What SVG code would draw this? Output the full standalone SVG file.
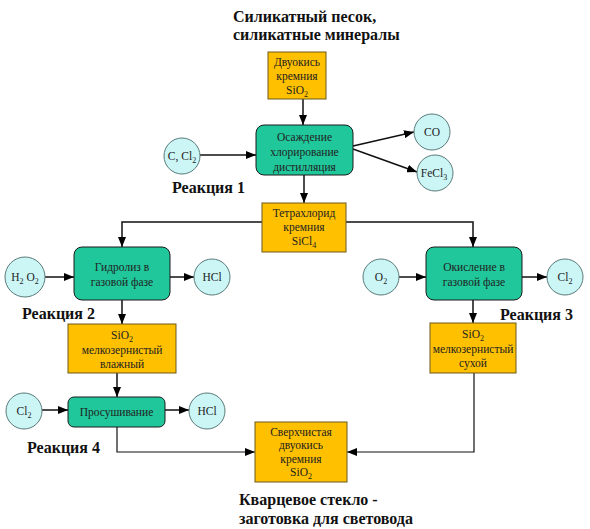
<svg xmlns="http://www.w3.org/2000/svg" width="590" height="529" viewBox="0 0 590 529">
<defs>
<marker id="arr" markerWidth="10" markerHeight="8" refX="10" refY="4" orient="auto" markerUnits="userSpaceOnUse">
<path d="M0,0 L10,4 L0,8 Z" fill="#000"/>
</marker>
<style>
.y{fill:#FFC000;stroke:#6b5a1a;stroke-width:1}
.g{fill:#1FC79A;stroke:#1a1a1a;stroke-width:1}
.c{fill:#CCF6F6;stroke:#5a7a7a;stroke-width:1}
.t{font-size:11.5px;fill:#222;text-anchor:middle}
.h{font-size:16px;font-weight:bold;fill:#111}
.l{fill:none;stroke:#111;stroke-width:1.5;marker-end:url(#arr)}
</style>
</defs>
<rect width="590" height="529" fill="#fff"/>
<g id="labels" font-family="'Liberation Serif','DejaVu Serif','Times New Roman',serif">
<text class="h" x="233" y="22">Силикатный песок,</text>
<text class="h" x="233" y="40">силикатные минералы</text>
<text class="h" x="172" y="193">Реакция 1</text>
<text class="h" x="22" y="319">Реакция 2</text>
<text class="h" x="500" y="320">Реакция 3</text>
<text class="h" x="27" y="453">Реакция 4</text>
<text class="h" x="239" y="505">Кварцевое стекло -</text>
<text class="h" x="239" y="524">заготовка для световода</text>
</g>
<g id="connectors">
<line class="l" x1="303" y1="99" x2="303" y2="125"/>
<line class="l" x1="200" y1="155" x2="256" y2="155"/>
<line class="l" x1="353" y1="146" x2="414" y2="132"/>
<line class="l" x1="353" y1="149" x2="417" y2="172"/>
<line class="l" x1="304" y1="175" x2="304" y2="203"/>
<polyline class="l" points="262,222 122,222 122,247"/>
<polyline class="l" points="346,222 473,222 473,247"/>
<line class="l" x1="45" y1="277" x2="74" y2="277"/>
<line class="l" x1="170" y1="277" x2="194" y2="277"/>
<line class="l" x1="399" y1="277" x2="426" y2="277"/>
<line class="l" x1="522" y1="277" x2="547" y2="277"/>
<line class="l" x1="122" y1="300" x2="122" y2="324"/>
<line class="l" x1="473" y1="300" x2="473" y2="323"/>
<line class="l" x1="117" y1="373" x2="117" y2="397"/>
<line class="l" x1="42" y1="410" x2="68" y2="410"/>
<line class="l" x1="165" y1="410" x2="189" y2="410"/>
<polyline class="l" style="stroke-width:1.2" points="117,427 117,452 255,452"/>
<polyline class="l" style="stroke-width:1.2" points="474,373 474,452 347,452"/>
</g>
<g id="nodes" font-family="'Liberation Serif','DejaVu Serif','Times New Roman',serif">
<g id="n-sio2-top"><rect class="y" x="268" y="52" width="58" height="47"/>
<text class="t" x="297" y="66">Двуокись</text><text class="t" x="297" y="80">кремния</text><text class="t" x="297" y="94">SiO<tspan font-size="8" dy="3">2</tspan></text></g>
<g id="n-chlor"><rect class="g" x="256" y="125" width="97" height="50" rx="8"/>
<text class="t" x="304.5" y="141">Осаждение</text><text class="t" x="304.5" y="156">хлорирование</text><text class="t" x="304.5" y="171">дистилляция</text></g>
<g id="n-ccl2"><circle class="c" cx="182" cy="156" r="18"/><text class="t" x="182" y="160">C, Cl<tspan font-size="8" dy="3">2</tspan></text></g>
<g id="n-co"><circle class="c" cx="432" cy="132" r="18"/><text class="t" x="432" y="136">CO</text></g>
<g id="n-fecl3"><circle class="c" cx="435" cy="173" r="18"/><text class="t" x="434" y="177">FeCl<tspan font-size="8" dy="3">3</tspan></text></g>
<g id="n-sicl4"><rect class="y" x="262" y="203" width="84" height="49"/>
<text class="t" x="304" y="217">Тетрахлорид</text><text class="t" x="304" y="231">кремния</text><text class="t" x="304" y="245">SiCl<tspan font-size="8" dy="3">4</tspan></text></g>
<g id="n-hydro"><rect class="g" x="74" y="247" width="96" height="53" rx="8"/>
<text class="t" x="122" y="271">Гидролиз в</text><text class="t" x="122" y="286">газовой фазе</text></g>
<g id="n-h2o2"><circle class="c" cx="25" cy="277" r="20"/><text class="t" x="25" y="281">H<tspan font-size="8" dy="3">2</tspan><tspan dy="-3"> O</tspan><tspan font-size="8" dy="3">2</tspan></text></g>
<g id="n-hcl1"><circle class="c" cx="212" cy="277" r="18"/><text class="t" x="212" y="281">HCl</text></g>
<g id="n-oxid"><rect class="g" x="426" y="247" width="96" height="53" rx="8"/>
<text class="t" x="474" y="271">Окисление в</text><text class="t" x="474" y="286">газовой фазе</text></g>
<g id="n-o2"><circle class="c" cx="381" cy="277" r="18"/><text class="t" x="381" y="281">O<tspan font-size="8" dy="3">2</tspan></text></g>
<g id="n-cl2a"><circle class="c" cx="565" cy="277" r="18"/><text class="t" x="565" y="281">Cl<tspan font-size="8" dy="3">2</tspan></text></g>
<g id="n-wet"><rect class="y" x="68" y="324" width="108" height="49"/>
<text class="t" x="122" y="339">SiO<tspan font-size="8" dy="3">2</tspan></text><text class="t" x="122" y="354">мелкозернистый</text><text class="t" x="122" y="368">влажный</text></g>
<g id="n-dry"><rect class="y" x="430" y="323" width="86" height="50"/>
<text class="t" x="473" y="338">SiO<tspan font-size="8" dy="3">2</tspan></text><text class="t" x="473" y="353">мелкозернистый</text><text class="t" x="473" y="367">сухой</text></g>
<g id="n-dry2"><rect class="g" x="68" y="397" width="97" height="30" rx="6"/>
<text class="t" x="116.5" y="416">Просушивание</text></g>
<g id="n-cl2b"><circle class="c" cx="24" cy="411" r="18"/><text class="t" x="24" y="415">Cl<tspan font-size="8" dy="3">2</tspan></text></g>
<g id="n-hcl2"><circle class="c" cx="207" cy="411" r="18"/><text class="t" x="207" y="415">HCl</text></g>
<g id="n-final"><rect class="y" x="255" y="422" width="92" height="60"/>
<text class="t" x="301" y="436">Сверхчистая</text><text class="t" x="301" y="449">двуокись</text><text class="t" x="301" y="463">кремния</text><text class="t" x="301" y="476">SiO<tspan font-size="8" dy="3">2</tspan></text></g>
</g>
</svg>
